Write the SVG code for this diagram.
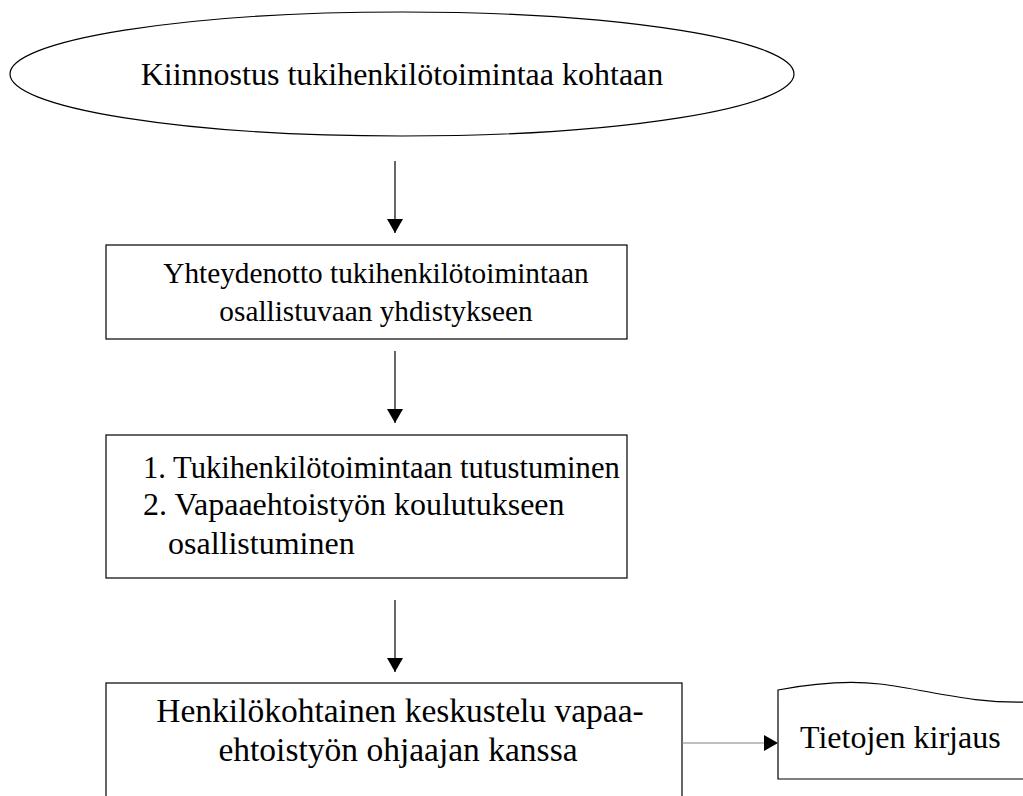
<svg xmlns="http://www.w3.org/2000/svg" width="1023" height="796" viewBox="0 0 1023 796">
<style>
.shape{fill:#fff;stroke:#000;stroke-width:1.2}
.t{font-family:"Liberation Serif","Times New Roman",serif;font-size:29.3px;fill:#000}
.c{text-anchor:middle}
.conn{stroke:#000;stroke-width:1.2;fill:none}
.conn2{stroke:#808080;stroke-width:1;fill:none}
</style>
<defs>
<marker id="ah" markerWidth="14" markerHeight="16" refX="14" refY="8" orient="auto" markerUnits="userSpaceOnUse">
<path d="M0,0 L14,8 L0,16 Z" fill="#000"/>
</marker>
</defs>
<rect width="1023" height="796" fill="#fff"/>
<g id="n1">
<ellipse class="shape" cx="402" cy="74" rx="392" ry="62"/>
<text class="t c" x="402" y="85" style="font-size:32px">Kiinnostus tukihenkilötoimintaa kohtaan</text>
</g>
<g id="n2">
<rect class="shape" x="106" y="245" width="521" height="94"/>
<text class="t c" x="376" y="283">Yhteydenotto tukihenkilötoimintaan</text>
<text class="t c" x="376" y="321">osallistuvaan yhdistykseen</text>
</g>
<g id="n3">
<rect class="shape" x="106" y="435" width="521" height="143"/>
<text class="t" x="143" y="478" style="font-size:30.6px">1. Tukihenkilötoimintaan tutustuminen</text>
<text class="t" x="143" y="515" style="font-size:32px">2. Vapaaehtoistyön koulutukseen</text>
<text class="t" x="168" y="554" style="font-size:32px">osallistuminen</text>
</g>
<g id="n4">
<rect class="shape" x="106" y="683" width="576" height="130"/>
<text class="t c" x="400" y="722" style="font-size:33.5px">Henkilökohtainen keskustelu vapaa-</text>
<text class="t c" x="398" y="761" style="font-size:33.5px">ehtoistyön ohjaajan kanssa</text>
</g>
<g id="n5">
<path class="shape" d="M778,690 C810,684 845,680 880,684 C930,690 970,704 1030,702 L1030,779 L778,779 Z"/>
<text class="t" x="800" y="748" style="font-size:32px">Tietojen kirjaus</text>
</g>
<g id="connectors">
<line class="conn" x1="395" y1="161" x2="395" y2="233" marker-end="url(#ah)"/>
<line class="conn" x1="395" y1="351" x2="395" y2="423" marker-end="url(#ah)"/>
<line class="conn" x1="395" y1="600" x2="395" y2="672" marker-end="url(#ah)"/>
<line class="conn2" x1="682" y1="743" x2="778" y2="743" marker-end="url(#ah)"/>
</g>
</svg>
